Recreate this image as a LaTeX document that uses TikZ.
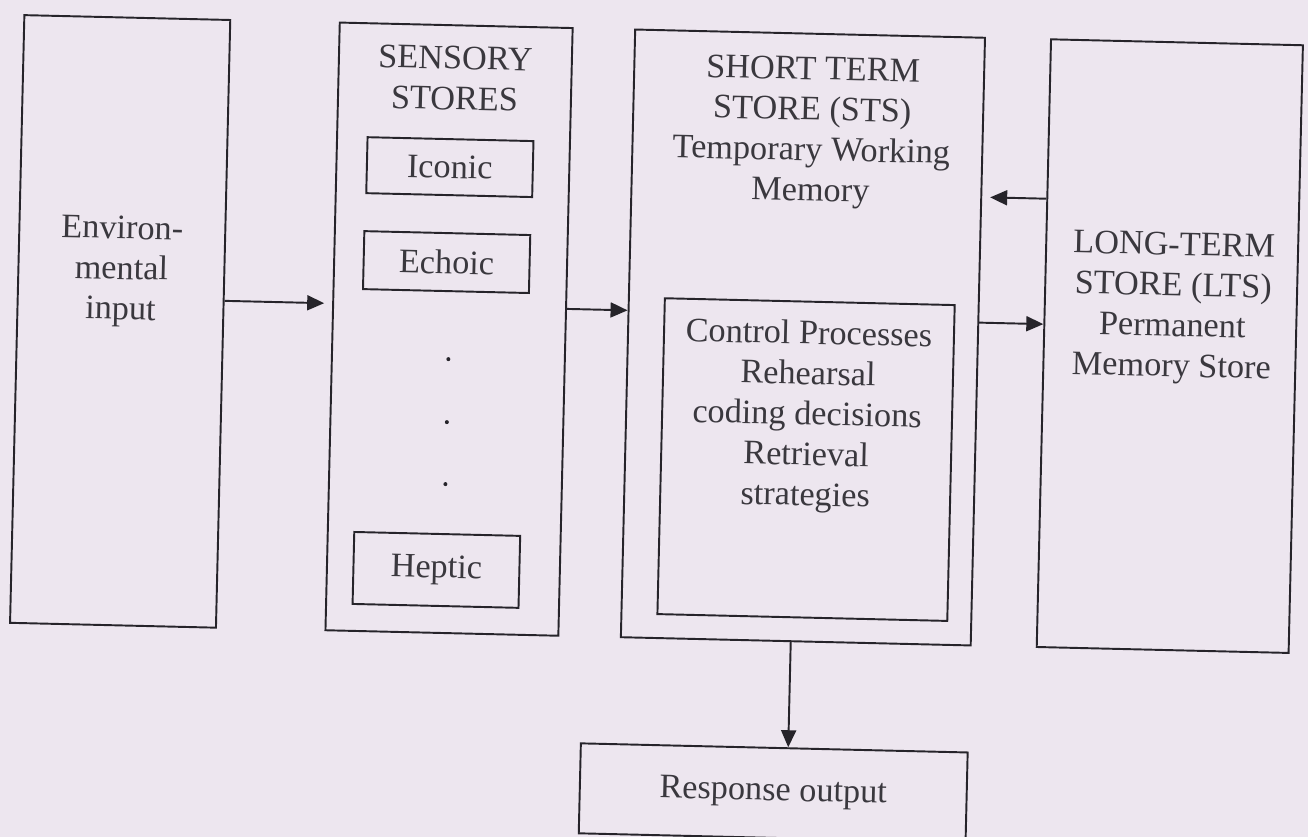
\documentclass[tikz,border=0pt]{standalone}
\usepackage{fontspec}
\setmainfont{Liberation Serif}
\usetikzlibrary{arrows.meta}
\definecolor{paper}{RGB}{237,230,239}
\definecolor{ink}{RGB}{38,36,42}
\definecolor{lettering}{RGB}{58,56,62}

\begin{document}
\begin{tikzpicture}[x=.02cm, y=-.02cm, line width=1.1pt, ink,
  font=\fontsize{19.5}{23}\selectfont,
  store/.style={draw, inner sep=0pt, text=lettering},
  words/.style={align=center, text=lettering},
  arr/.style={-{Triangle[length=.34cm, width=.3cm]}}]

\path[use as bounding box, fill=paper] (0,0) rectangle (1308,837);

\begin{scope}[rotate around={-1.35:(654,418)}, transform shape]
\node[store, minimum width=4.12cm, minimum height=12.16cm] (env) at (118,334) {};
\node[store, minimum width=4.66cm, minimum height=12.16cm] (sens) at (447,334) {};
\node[store, minimum width=7cm, minimum height=12.16cm] (sts) at (801,334) {};
\node[store, minimum width=5.04cm, minimum height=12.16cm] (lts) at (1168,334) {};
\node[store, minimum width=5.8cm, minimum height=6.32cm] (ctrl) at (807,456) {};
\node[store, minimum width=7.74cm, minimum height=1.8cm] (resp) at (782,790) {Response output};

\foreach \name/\x/\y/\h/\txt in {iconic/444/172/1.12cm/Iconic, echoic/443/267/1.16cm/Echoic, heptic/440/575/1.44cm/Heptic}
	\node[store, minimum width=3.32cm, minimum height=\h] (\name) at (\x,\y) {\txt};
\foreach \y in {364,427,489}
	\fill (447,\y) circle[radius=.04cm];

\node[words] (envtxt) at (118,284) {Environ-\\mental\\input};
\node[words] (senstxt) at (447,83) {SENSORY\\STORES};
\node[words] (ststxt) at (805,129) {SHORT TERM\\STORE (STS)\\Temporary Working\\Memory};
\node[words] (ctrltxt) at (807,413) {Control Processes\\Rehearsal\\coding decisions\\Retrieval\\strategies};
\node[words] (ltstxt) at (1170,296) {LONG-TERM\\STORE (LTS)\\Permanent\\Memory Store};

\draw[arr, shorten >=.16cm] ([yshift=.46cm]env.east) -- ([yshift=.46cm]sens.west);
\draw[arr] ([yshift=.46cm]sens.east) -- ([yshift=.46cm]sts.west);
\draw[arr] ([yshift=.38cm]sts.east) -- ([yshift=.38cm]lts.west);
\draw[arr, shorten >=.16cm] ([yshift=2.89cm]lts.west) -- ([yshift=2.89cm]sts.east);
\draw[arr] ([xshift=-.1cm]sts.south) -- ([xshift=.28cm]resp.north);
\end{scope}

\end{tikzpicture}
\end{document}
